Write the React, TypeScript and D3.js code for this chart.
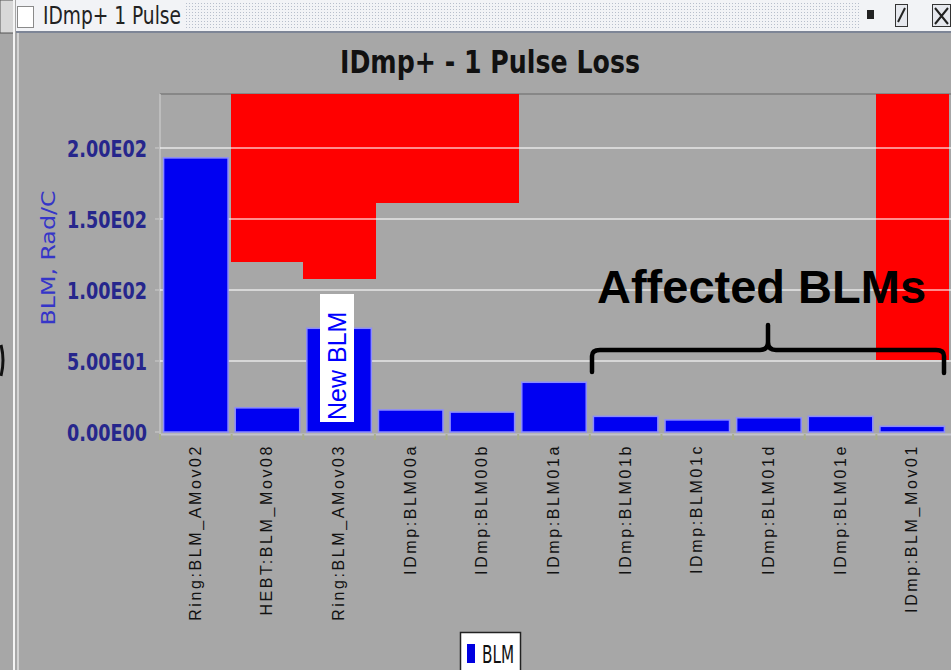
import React from "react";
import * as d3 from "d3";

// values
const categories = [
  "Ring:BLM_AMov02",
  "HEBT:BLM_Mov08",
  "Ring:BLM_AMov03",
  "IDmp:BLM00a",
  "IDmp:BLM00b",
  "IDmp:BLM01a",
  "IDmp:BLM01b",
  "IDmp:BLM01c",
  "IDmp:BLM01d",
  "IDmp:BLM01e",
  "IDmp:BLM_Mov01",
];
const blmValues = [193, 17, 73, 15.5, 14, 35, 11, 8.5, 10, 11, 4];
const limitValues: (number | null)[] = [null, 120, 108, 161, 161, null, null, null, null, null, 51];
const yTicks = [0, 50, 100, 150, 200];
const yTickLabels = ["0.00E00", "5.00E01", "1.00E02", "1.50E02", "2.00E02"];
const yMax = 238;

const W = 951;
const H = 670;
const plot = { left: 160, right: 948, top: 94, bottom: 432 };

export default function App() {
  const x = d3
    .scaleBand<string>()
    .domain(categories)
    .range([plot.left, plot.right])
    .paddingInner(0.1)
    .paddingOuter(0.05);
  const y = d3.scaleLinear().domain([0, yMax]).range([plot.bottom, plot.top]);
  const step = x.step();
  const gap = step - x.bandwidth();

  const brace = d3.path();
  brace.moveTo(592, 372);
  brace.lineTo(592, 356);
  brace.quadraticCurveTo(592, 350, 600, 350);
  brace.lineTo(760, 350);
  brace.quadraticCurveTo(768, 350, 768, 342);
  brace.lineTo(768, 325);
  brace.moveTo(768, 342);
  brace.quadraticCurveTo(768, 350, 776, 350);
  brace.lineTo(936, 350);
  brace.quadraticCurveTo(944, 350, 944, 356);
  brace.lineTo(944, 373);

  return (
    <svg
      width={W}
      height={H}
      style={{ position: "absolute", left: 0, top: 0, display: "block" }}
    >
      <defs>
        <pattern id="dots" width="3" height="3" patternUnits="userSpaceOnUse">
          <rect width="3" height="3" fill="#f2f3f6" />
          <rect width="1" height="1" fill="#b8bfcc" />
        </pattern>
      </defs>
      <rect width={W} height={H} fill="#a7a7a7" />

      {/* window chrome */}
      <rect x={0} y={0} width={14} height={33} fill="#d8d8d8" stroke="#555" strokeWidth={1} />
      <line x1={14} y1={0} x2={14} y2={H} stroke="#f4f4f4" strokeWidth={2} />
      <line x1={18} y1={30} x2={18} y2={H} stroke="#e0e0e0" strokeWidth={1.5} />
      <path d="M1,345 Q5,360 1,376" fill="none" stroke="#111" strokeWidth={3} />
      <rect x={16} y={0} width={W - 16} height={31} fill="#f2f3f6" />
      <rect x={185} y={2} width={675} height={27} fill="url(#dots)" />
      <line x1={16} y1={32} x2={W} y2={32} stroke="#7d8596" strokeWidth={2} />
      <rect x={17.5} y={6.5} width={16} height={21} fill="#fff" stroke="#8a8a8a" />
      <text
        x={43}
        y={24}
        fontFamily="DejaVu Sans Condensed"
        fontSize={24}
        fill="#222"
        textLength={138}
        lengthAdjust="spacingAndGlyphs"
      >
        IDmp+ 1 Pulse
      </text>
      <rect x={867} y={10} width={7} height={9} fill="#222" />
      <rect x={895.5} y={4.5} width={12} height={22} fill="#e6e8ee" stroke="#333" />
      <line x1={898} y1={22} x2={905} y2={8} stroke="#222" strokeWidth={2} />
      <rect x={932.5} y={4.5} width={18} height={22} fill="#e6e8ee" stroke="#333" />
      <path d="M935,8 L948,24 M948,8 L935,24" stroke="#222" strokeWidth={2} />

      {/* title */}
      <text
        x={490}
        y={73}
        textAnchor="middle"
        fontFamily="DejaVu Sans Condensed"
        fontWeight="bold"
        fontSize={32}
        fill="#111"
        textLength={300}
        lengthAdjust="spacingAndGlyphs"
      >
        IDmp+ - 1 Pulse Loss
      </text>

      {/* plot frame */}
      <line x1={plot.left} y1={plot.top} x2={W} y2={plot.top} stroke="#7c7c7c" strokeWidth={1.5} />
      <line x1={plot.left} y1={plot.top} x2={plot.left} y2={plot.bottom + 2} stroke="#c4c4c4" strokeWidth={1.5} />

      {/* limit bars (hang from top) */}
      <g shapeRendering="crispEdges">
        {categories.map((c, i) =>
          limitValues[i] == null ? null : (
            <rect
              key={"lim" + c}
              x={Math.floor((x(c) as number) - gap / 2)}
              y={y(yMax)}
              width={Math.ceil(step) + 1}
              height={y(limitValues[i] as number) - y(yMax)}
              fill="#ff0000"
            />
          )
        )}
      </g>

      {/* gridlines */}
      {yTicks.slice(1).map((t) => (
        <line
          key={"g" + t}
          x1={plot.left}
          x2={W}
          y1={y(t)}
          y2={y(t)}
          stroke="#ffffff"
          strokeOpacity={0.55}
          strokeWidth={2}
        />
      ))}

      {/* y ticks */}
      {yTicks.map((t, i) => (
        <g key={"t" + t}>
          <line x1={plot.left - 5} x2={plot.left} y1={y(t)} y2={y(t)} stroke="#c0c0c0" strokeWidth={1.5} />
          <text
            x={147}
            y={y(t) + 9}
            textAnchor="end"
            fontFamily="DejaVu Sans Condensed"
            fontWeight="bold"
            fontSize={23}
            fill="#26268c"
            textLength={80}
            lengthAdjust="spacingAndGlyphs"
          >
            {yTickLabels[i]}
          </text>
        </g>
      ))}
      <text
        transform="translate(55,258) rotate(-90)"
        textAnchor="middle"
        fontFamily="DejaVu Sans Condensed"
        fontSize={20}
        fill="#3535c8"
        textLength={135}
        lengthAdjust="spacingAndGlyphs"
      >
        BLM, Rad/C
      </text>

      {/* blm bars */}
      {categories.map((c, i) => (
        <rect
          key={"b" + c}
          x={x(c)}
          y={y(blmValues[i])}
          width={x.bandwidth()}
          height={y(0) - y(blmValues[i])}
          fill="#0000f2"
          stroke="#8c8cff"
          strokeWidth={1.5}
        />
      ))}

      {/* x axis */}
      <line x1={plot.left} x2={W} y1={plot.bottom + 2.5} y2={plot.bottom + 2.5} stroke="#c2c2cc" strokeWidth={2} />
      {categories.map((c) => (
        <line
          key={"xt" + c}
          x1={(x(c) as number) - gap / 2}
          x2={(x(c) as number) - gap / 2}
          y1={plot.bottom + 2}
          y2={plot.bottom + 8}
          stroke="#aab08c"
          strokeWidth={2}
        />
      ))}
      {categories.map((c) => (
        <text
          key={"xl" + c}
          transform={`translate(${(x(c) as number) + x.bandwidth() / 2 + 5},444) rotate(-90)`}
          textAnchor="end"
          fontFamily="Liberation Sans"
          fontSize={16}
          letterSpacing={2.6}
          fill="#111"
        >
          {c}
        </text>
      ))}

      {/* annotations */}
      <rect x={320} y={294} width={34} height={128} fill="#ffffff" />
      <text
        transform="translate(346,420) rotate(-90)"
        fontFamily="Liberation Sans"
        fontSize={25}
        fill="#0000ff"
      >
        New BLM
      </text>
      <text x={597} y={303} fontFamily="Liberation Sans" fontWeight="bold" fontSize={47} fill="#000">
        Affected BLMs
      </text>
      <path d={brace.toString()} fill="none" stroke="#000" strokeWidth={4.5} strokeLinecap="round" strokeLinejoin="round" />

      {/* legend */}
      <rect x={460.5} y={632.5} width={60} height={45} fill="#ffffff" stroke="#222" strokeWidth={1.5} />
      <rect x={467} y={644} width={8} height={19} fill="#0000e0" />
      <text
        x={482}
        y={663}
        fontFamily="DejaVu Sans Condensed"
        fontSize={24}
        fill="#111"
        textLength={32}
        lengthAdjust="spacingAndGlyphs"
      >
        BLM
      </text>
    </svg>
  );
}
